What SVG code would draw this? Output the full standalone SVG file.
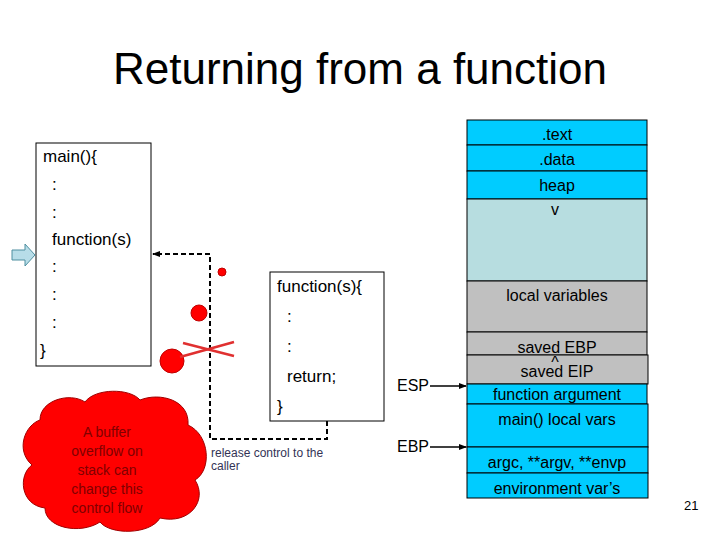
<svg xmlns="http://www.w3.org/2000/svg" width="720" height="540" viewBox="0 0 720 540">
<defs>
<style>
text{font-family:"Liberation Sans",Arial,sans-serif;fill:#000}
.c{font-size:17px}
.s{font-size:16px;text-anchor:middle}
.b{stroke:#000;stroke-width:1}
.blue{fill:#00ccff}
.grey{fill:#c0c0c0}
.dash{fill:none;stroke:#000;stroke-width:2;stroke-dasharray:5,3}
</style>
<marker id="ah" markerWidth="8" markerHeight="8" refX="7" refY="4" orient="auto" markerUnits="userSpaceOnUse"><path d="M0,1 L8,4 L0,7z" fill="#000"/></marker>
</defs>
<rect width="720" height="540" fill="#fff"/>
<text x="360" y="84" font-size="44" text-anchor="middle">Returning from a function</text>
<g id="main">
<rect x="36" y="143" width="115" height="223" fill="#fff" class="b"/>
<text class="c" x="43" y="162">main(){</text>
<text class="c" x="52" y="190">:</text>
<text class="c" x="52" y="218">:</text>
<text class="c" x="52" y="245">function(s)</text>
<text class="c" x="52" y="272">:</text>
<text class="c" x="52" y="300">:</text>
<text class="c" x="52" y="328">:</text>
<text class="c" x="40" y="356">}</text>
</g>
<g id="pointer"><path d="M12,250 h13 v-6 l10,11 l-10,11 v-6 h-13z" fill="#b7dde8" stroke="#4f8fa0"/></g>
<g id="func">
<rect x="270" y="272" width="114" height="149" fill="#fff" class="b"/>
<text class="c" x="277" y="292">function(s){</text>
<text class="c" x="287" y="322">:</text>
<text class="c" x="287" y="352">:</text>
<text class="c" x="287" y="382">return;</text>
<text class="c" x="277" y="412">}</text>
</g>
<g id="connectors">
<path class="dash" d="M327,421 V439 H210 V254 H153" marker-end="url(#ah)"/>
<line x1="430" y1="386" x2="466" y2="386" stroke="#000" stroke-width="1.5" marker-end="url(#ah)"/>
<line x1="430" y1="447" x2="466" y2="447" stroke="#000" stroke-width="1.5" marker-end="url(#ah)"/>
</g>
<g id="break" fill="#ff0000" stroke="#c00000">
<circle cx="222" cy="272" r="4"/>
<circle cx="199" cy="313" r="8"/>
<circle cx="172" cy="361" r="12"/>
<line x1="183" y1="343" x2="234" y2="356" stroke="#e03030" stroke-width="2.5"/>
<line x1="180" y1="357" x2="234" y2="342" stroke="#e03030" stroke-width="2.5"/>
</g>
<text x="211" y="457" font-size="12" fill="#333355" style="fill:#333355">release control to the</text>
<text x="211" y="470" font-size="12" style="fill:#333355">caller</text>
<g id="cloud">
<path d="M40,420 C40,400 70,392 85,402 C95,388 130,388 140,400 C160,392 190,400 188,425 C210,435 212,470 195,480 C208,500 190,525 160,518 C150,535 110,535 100,522 C80,535 45,528 45,508 C20,505 18,475 32,465 C15,450 25,425 40,420z" fill="#ff0000" stroke="#a00000" stroke-width="1"/>
<g font-size="14" text-anchor="middle" style="fill:#800000">
<text x="107" y="437" style="fill:#800000">A buffer</text>
<text x="107" y="456" style="fill:#800000">overflow on</text>
<text x="107" y="475" style="fill:#800000">stack can</text>
<text x="107" y="494" style="fill:#800000">change this</text>
<text x="107" y="513" style="fill:#800000">control flow</text>
</g>
</g>
<g id="stack">
<rect x="467" y="120" width="180" height="25" class="blue b"/>
<rect x="467" y="145" width="180" height="26" class="blue b"/>
<rect x="467" y="171" width="180" height="28" class="blue b"/>
<rect x="467" y="199" width="180" height="82" fill="#b7dde0" class="b"/>
<rect x="467" y="281" width="180" height="51" class="grey b"/>
<rect x="467" y="332" width="180" height="23" class="grey b"/>
<rect x="467" y="355" width="181" height="29" class="grey b"/>
<rect x="467" y="384" width="180" height="20" class="blue b"/>
<rect x="467" y="404" width="181" height="43" class="blue b"/>
<rect x="467" y="447" width="181" height="26" class="blue b"/>
<rect x="467" y="473" width="181" height="25" class="blue b"/>
<text class="s" x="557" y="140">.text</text>
<text class="s" x="557" y="165">.data</text>
<text class="s" x="557" y="191">heap</text>
<text class="s" x="555" y="215" font-size="14">v</text>
<text class="s" x="557" y="301">local variables</text>
<text class="s" x="557" y="353">saved EBP</text>
<text class="s" x="557" y="377">saved EIP</text>
<text class="s" x="555" y="368" font-size="12">^</text>
<text class="s" x="557" y="400">function argument</text>
<text class="s" x="557" y="425">main() local vars</text>
<text class="s" x="557" y="468">argc, **argv, **envp</text>
<text class="s" x="557" y="494">environment var’s</text>
</g>
<text x="397" y="391" font-size="16">ESP</text>
<text x="397" y="452" font-size="16">EBP</text>
<text x="684" y="510" font-size="13">21</text>
</svg>
